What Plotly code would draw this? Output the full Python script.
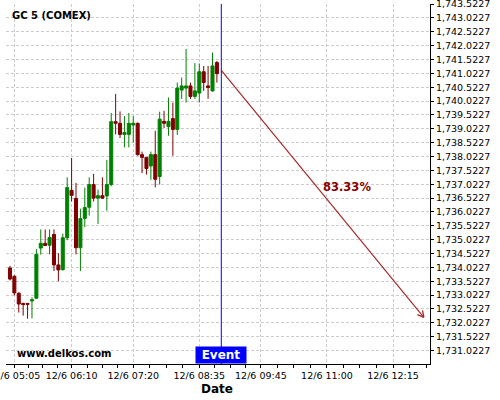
import pandas as pd
import plotly.graph_objects as go

# ---------------- data ----------------
start_time = "2020-06-12 05:00"
n_candles = 48
candle_times = pd.date_range(start_time, periods=n_candles, freq="5min")

opens = [1734.00, 1733.70, 1733.09, 1732.72, 1732.72, 1732.81, 1732.91, 1734.72, 1734.89, 1734.82,
         1735.21, 1734.11, 1733.94, 1735.09, 1736.80, 1736.51, 1734.73, 1735.79, 1736.19, 1737.01,
         1736.52, 1736.61, 1736.60, 1737.01, 1739.28, 1739.22, 1738.82, 1738.82, 1739.16, 1739.22,
         1738.09, 1737.99, 1737.68, 1738.09, 1737.30, 1739.29, 1739.10, 1739.39, 1739.00, 1740.42,
         1740.49, 1740.57, 1740.19, 1740.31, 1741.08, 1740.57, 1740.39, 1741.41]
highs = [1734.08, 1733.74, 1733.12, 1732.75, 1732.74, 1732.94, 1734.68, 1735.39, 1735.39, 1735.39,
         1735.39, 1734.53, 1735.24, 1737.27, 1737.97, 1737.07, 1736.14, 1736.90, 1737.27, 1737.40,
         1736.83, 1737.27, 1737.90, 1739.59, 1740.28, 1739.65, 1739.48, 1739.59, 1739.48, 1739.25,
         1738.20, 1738.00, 1738.20, 1738.95, 1739.64, 1739.67, 1740.15, 1739.97, 1740.69, 1740.87,
         1741.90, 1740.69, 1741.39, 1741.38, 1741.29, 1741.29, 1741.77, 1741.47]
lows = [1733.55, 1733.01, 1732.39, 1732.28, 1732.17, 1732.18, 1732.88, 1734.48, 1734.79, 1734.49,
        1733.89, 1733.52, 1733.90, 1735.00, 1736.40, 1734.49, 1733.89, 1735.47, 1735.89, 1736.40,
        1735.59, 1736.50, 1736.07, 1736.95, 1738.82, 1738.69, 1738.35, 1738.35, 1738.53, 1738.05,
        1737.42, 1737.37, 1737.18, 1736.91, 1737.01, 1739.05, 1738.77, 1738.05, 1738.80, 1740.10,
        1739.97, 1740.10, 1740.10, 1739.97, 1740.39, 1740.10, 1740.36, 1740.69]
closes = [1733.60, 1733.10, 1732.70, 1732.68, 1732.69, 1732.85, 1734.49, 1734.89, 1734.81, 1735.10,
          1734.11, 1733.93, 1735.09, 1736.90, 1736.62, 1734.73, 1735.78, 1736.18, 1737.01, 1736.52,
          1736.61, 1736.52, 1737.01, 1739.28, 1739.22, 1738.82, 1738.89, 1739.22, 1739.22, 1738.09,
          1737.99, 1737.59, 1738.09, 1737.20, 1739.37, 1739.22, 1739.29, 1739.00, 1740.49, 1740.57,
          1740.57, 1740.19, 1740.39, 1741.08, 1740.69, 1740.51, 1741.29, 1741.01]

event_time = "2020-06-12 09:00"
arrow_times = ["2020-06-12 09:00", "2020-06-12 12:50"]
arrow_values = [1741.13, 1732.22]
probability_text = "83.33%"

x_tick_vals = ["2020-06-12 05:05", "2020-06-12 06:10", "2020-06-12 07:20", "2020-06-12 08:35",
               "2020-06-12 09:45", "2020-06-12 11:00", "2020-06-12 12:15"]
x_tick_text = ["12/6 05:05", "12/6 06:10", "12/6 07:20", "12/6 08:35",
               "12/6 09:45", "12/6 11:00", "12/6 12:15"]
x_range = ["2020-06-12 04:55:30", "2020-06-12 12:57:00"]
y_range = [1730.535, 1743.525]
y_tick0 = 1731.0227
y_dtick = 0.5

# minor ticks: quarter steps between the major ticks
major_ts = pd.to_datetime(x_tick_vals)
minor_ts = []
for a, b in zip(major_ts[:-1], major_ts[1:]):
    step = (b - a) / 4
    for k in range(1, 4):
        minor_ts.append(a + k * step)
last_step = (major_ts[-1] - major_ts[-2]) / 4
for k in range(1, 4):
    t = major_ts[-1] + k * last_step
    if t <= pd.Timestamp(x_range[1]):
        minor_ts.append(t)

FONT = "DejaVu Sans"
RED = "#800000"
GREEN = "#008000"
ARROW = "#a52a2a"

fig = go.Figure()
fig.add_trace(go.Candlestick(
    x=candle_times, open=opens, high=highs, low=lows, close=closes,
    increasing=dict(line=dict(color=GREEN, width=1), fillcolor=GREEN),
    decreasing=dict(line=dict(color=RED, width=1), fillcolor=RED),
    whiskerwidth=0, showlegend=False, hoverinfo="skip",
))
fig.add_trace(go.Scatter(
    x=arrow_times, y=arrow_values, mode="lines",
    line=dict(color=ARROW, width=1.2), showlegend=False, hoverinfo="skip",
))

# event line
fig.add_shape(type="line", x0=event_time, x1=event_time, y0=0, y1=1,
              xref="x", yref="paper", line=dict(color="#0000ff", width=1))

annotations = [
    dict(text="<b>GC 5 (COMEX)</b>", xref="paper", yref="paper", x=0.0094, y=0.969,
         xanchor="left", yanchor="middle", showarrow=False,
         font=dict(family=FONT, size=10, color="#000000")),
    dict(text="<b>www.delkos.com</b>", xref="paper", yref="paper", x=0.0212, y=0.0278,
         xanchor="left", yanchor="middle", showarrow=False,
         font=dict(family=FONT, size=10, color="#000000")),
    dict(text="<b>" + probability_text + "</b>", xref="paper", yref="paper", x=0.8035, y=0.4925,
         xanchor="center", yanchor="middle", showarrow=False,
         font=dict(family=FONT, size=11.5, color="#8b0000")),
    dict(text="<b>Event</b>", xref="x", yref="paper", x=event_time, y=0,
         xanchor="center", yanchor="bottom", showarrow=False,
         bgcolor="#0000ff", width=46, height=12, borderpad=2,
         font=dict(family=FONT, size=12, color="#ffffff")),
    dict(text="<b>Date</b>", xref="paper", yref="paper", x=0.4965, y=-0.0703,
         xanchor="center", yanchor="middle", showarrow=False,
         font=dict(family=FONT, size=12, color="#000000")),
]
# open arrowhead (two short strokes at the arrow tip)
for ax_off, ay_off in [(-8, -3.2), (-1.6, -8.4)]:
    annotations.append(dict(
        text="", x=arrow_times[1], y=arrow_values[1], xref="x", yref="y",
        ax=ax_off, ay=ay_off, axref="pixel", ayref="pixel",
        showarrow=True, arrowhead=0, arrowwidth=1.3, arrowcolor=ARROW,
    ))

fig.update_layout(
    width=500, height=400,
    margin=dict(l=6, r=70, t=4, b=36, autoexpand=False),
    paper_bgcolor="white", plot_bgcolor="white",
    font=dict(family=FONT, size=9.5, color="#000000"),
    boxgap=0.02,
    annotations=annotations,
    showlegend=False,
    hovermode=False,
    xaxis=dict(
        type="date", range=x_range, rangeslider=dict(visible=False),
        tickmode="array", tickvals=x_tick_vals, ticktext=x_tick_text,
        ticks="outside", ticklen=3, tickcolor="#000000",
        showline=True, linecolor="#000000", linewidth=1,
        showgrid=True, gridcolor="#cccccc", griddash="3px,2px", gridwidth=1,
        zeroline=False, tickfont=dict(size=9.5), ticklabeloverflow="allow",
        automargin=False,
        minor=dict(tickmode="array", tickvals=minor_ts, ticks="outside", ticklen=3,
                   tickcolor="#000000", showgrid=False),
    ),
    yaxis=dict(
        side="right", range=y_range,
        tickmode="linear", tick0=y_tick0, dtick=y_dtick, tickformat=",.4f",
        ticks="outside", ticklen=3, tickcolor="#000000",
        showline=True, linecolor="#000000", linewidth=1,
        showgrid=True, gridcolor="#cccccc", griddash="3px,2px", gridwidth=1,
        zeroline=False, tickfont=dict(size=9.5), ticklabeloverflow="allow",
        automargin=False,
    ),
)

fig.write_html("out.html", config={"displayModeBar": False},
               post_script="document.body.style.margin='0';")
